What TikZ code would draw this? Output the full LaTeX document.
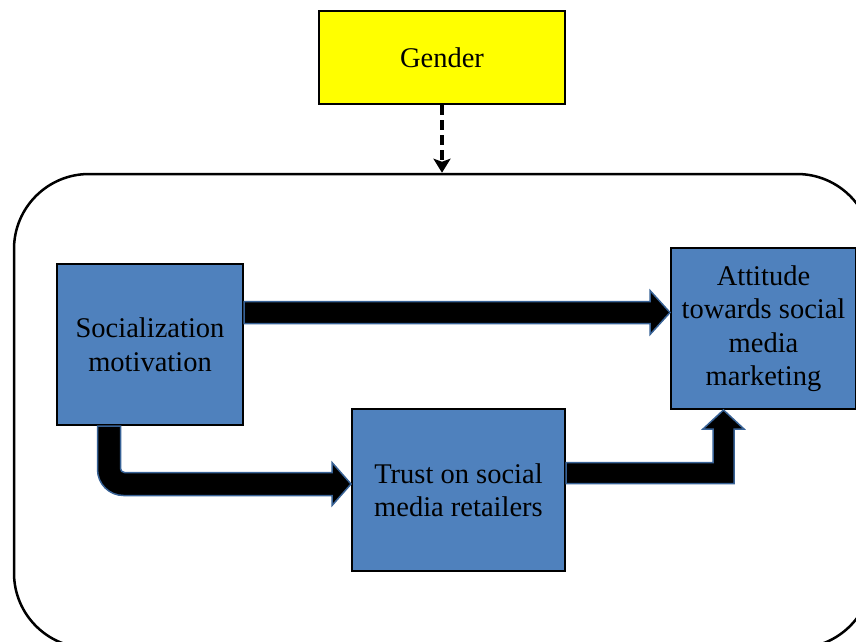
\documentclass[tikz,border=0pt]{standalone}
\usepackage{fontspec}
\setmainfont{Liberation Serif}
\usetikzlibrary{positioning,calc,arrows.meta}
\definecolor{boxblue}{RGB}{79,129,189}
\definecolor{edgeblue}{RGB}{56,98,150}
\definecolor{genderyellow}{RGB}{255,255,0}

\begin{document}
\begin{tikzpicture}[x=1pt, y=1pt,
box/.style={draw, line width=2pt, fill=boxblue, align=center, inner sep=0pt,
  font=\fontsize{28.5}{33.5}\selectfont},
fatarrow/.style={fill=black, draw=edgeblue, line width=1.5pt, line join=miter}]

\useasboundingbox (0,0) rectangle (856,-641);
\clip (0,0) rectangle (856,-641);

% outer frame
\node[draw, line width=2.5pt, rounded corners=75pt, minimum width=858pt,
  minimum height=474pt] (frame) at (443,-411) {};

% moderator
\node[box, fill=genderyellow, minimum width=246pt, minimum height=93pt] (gender)
  at (442,-57.5) {Gender};

% constructs
\node[box, minimum width=186pt, minimum height=161pt] (soc)
  at (150,-344.5) {Socialization\\motivation};
\node[box, minimum width=185pt, minimum height=161pt] (att)
  at (763.5,-328.5) {Attitude\\towards social\\media\\marketing};
\node[box, minimum width=213pt, minimum height=162pt] (trust)
  at (458.5,-490) {Trust on social\\media retailers};

% moderation
\draw[line width=3.5pt, dash pattern=on 10pt off 5pt,
  -{Stealth[length=14pt,width=17pt,inset=3pt]}]
  (gender.south) -- (gender.south |- frame.north);

% socialization -> attitude
\filldraw[fatarrow] let \p1=($(soc.east)+(0,32)$), \p2=($(att.west)+(0,16)$) in
  (\x1,\y1+11pt) -- (\x2-20pt,\y1+11pt) -- (\x2-20pt,\y1+22pt)
  -- (\x2,\y2) -- (\x2-20pt,\y1-22pt) -- (\x2-20pt,\y1-11pt)
  -- (\x1,\y1-11pt) -- cycle;

% socialization -> trust
\filldraw[fatarrow] let \p1=($(soc.south)+(-41,0)$), \p2=($(trust.west)+(0,6)$) in
  (\x1-11.5pt,\y1) -- (\x1-11.5pt,\y2+14.5pt)
  arc[start angle=180, end angle=270, radius=26pt]
  -- (\x2-19pt,\y2-11.5pt) -- (\x2-19pt,\y2-21.5pt) -- (\x2,\y2)
  -- (\x2-19pt,\y2+21.5pt) -- (\x2-19pt,\y2+11.5pt) -- (\x1+15.5pt,\y2+11.5pt)
  arc[start angle=270, end angle=180, radius=4pt]
  -- (\x1+11.5pt,\y1) -- cycle;

% trust -> attitude
\filldraw[fatarrow] let \p1=($(trust.east)+(0,17)$), \p2=($(att.south)+(-40,0)$) in
  (\x1,\y1+10.5pt) -- (\x2-10.5pt,\y1+10.5pt) -- (\x2-10.5pt,\y2-19pt)
  -- (\x2-20.5pt,\y2-19pt) -- (\x2,\y2) -- (\x2+20.5pt,\y2-19pt)
  -- (\x2+10.5pt,\y2-19pt) -- (\x2+10.5pt,\y1-10.5pt) -- (\x1,\y1-10.5pt) -- cycle;
\end{tikzpicture}
\end{document}
